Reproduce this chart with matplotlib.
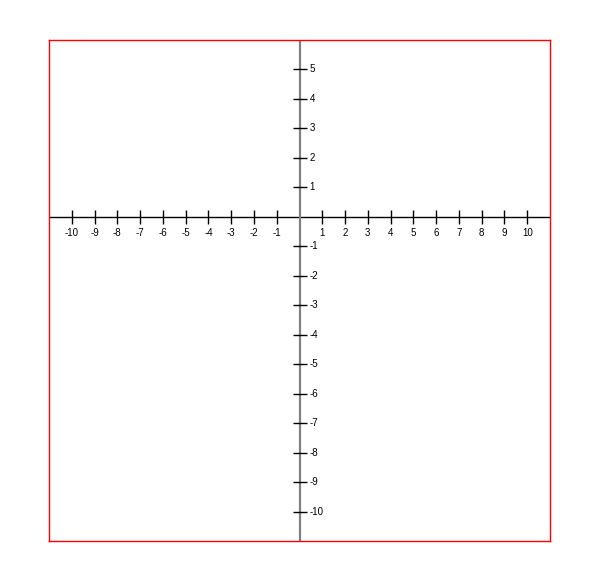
import matplotlib
matplotlib.use('Agg')
import matplotlib.pyplot as plt
from matplotlib.transforms import offset_copy
import numpy as np

x_ticks = [-10, -9, -8, -7, -6, -5, -4, -3, -2, -1, 1, 2, 3, 4, 5, 6, 7, 8, 9, 10]
y_ticks = [-10, -9, -8, -7, -6, -5, -4, -3, -2, -1, 1, 2, 3, 4, 5]
x_range = (-11, 11)
y_range = (-11, 6)

plt.rcParams['font.family'] = ['Liberation Sans', 'DejaVu Sans']

fig = plt.figure(figsize=(6, 5.82), dpi=100)
ax = fig.add_axes([49 / 600, 41 / 582, 501 / 600, 501 / 582])
ax.set_xlim(*x_range)
ax.set_ylim(*y_range)
for s in ax.spines.values():
    s.set_color('red')
    s.set_linewidth(1)
ax.set_xticks([])
ax.set_yticks([])

# axes lines
ax.axhline(0, color='black', lw=1)
ax.axvline(0, color='#808080', lw=1.6)

# tick marks
ax.plot(x_ticks, np.zeros(len(x_ticks)), ls='none', marker='|', color='black', ms=10, mew=1)
ax.plot(np.zeros(len(y_ticks)), y_ticks, ls='none', marker='_', color='black', ms=10, mew=1)

# tick labels
tx = offset_copy(ax.transData, fig=fig, x=0, y=-16, units='dots')
for v in x_ticks:
    ax.text(v, 0, str(v), transform=tx, ha='center', va='center', fontsize=7)
ty = offset_copy(ax.transData, fig=fig, x=10, y=0, units='dots')
for v in y_ticks:
    ax.text(0, v, str(v), transform=ty, ha='left', va='center', fontsize=7)

fig.savefig('out.png', dpi=100)
